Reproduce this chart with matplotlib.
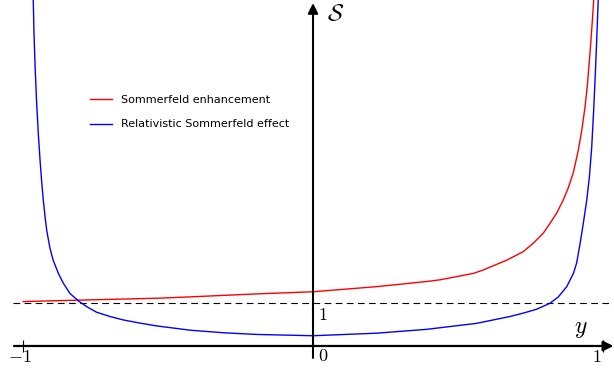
import matplotlib
matplotlib.use('Agg')
import matplotlib.pyplot as plt
import numpy as np

plt.rcParams['mathtext.fontset'] = 'cm'

# values (x = y variable, value = S)
red_x = [-0.999, -0.769, -0.528, -0.424, -0.194, 0.0, 0.220, 0.392, 0.438, 0.553,
         0.587, 0.668, 0.725, 0.760, 0.794, 0.817, 0.840, 0.863, 0.880, 0.898,
         0.915, 0.927, 0.938, 0.946, 0.955, 0.962, 0.969]
red_s = [1.04, 1.08, 1.12, 1.15, 1.22, 1.27, 1.39, 1.51, 1.55, 1.70,
         1.78, 2.01, 2.21, 2.41, 2.64, 2.87, 3.11, 3.42, 3.70, 4.07,
         4.59, 5.06, 5.60, 6.10, 6.85, 7.50, 8.20]

blue_x = [-0.965, -0.962, -0.958, -0.953, -0.947, -0.941, -0.936, -0.930, -0.924, -0.918,
          -0.907, -0.896, -0.878, -0.861, -0.838, -0.806, -0.780, -0.746, -0.700, -0.654,
          -0.600, -0.539, -0.424, -0.309, -0.194, 0.0, 0.220, 0.392, 0.564, 0.679,
          0.725, 0.771, 0.817, 0.846, 0.875, 0.898, 0.909, 0.921, 0.932, 0.944,
          0.953, 0.961, 0.968, 0.974, 0.979, 0.984]
blue_s = [8.20, 7.30, 6.50, 5.70, 4.95, 4.33, 3.88, 3.42, 3.03, 2.70,
          2.29, 2.01, 1.70, 1.47, 1.23, 1.04, 0.92, 0.79, 0.69, 0.61,
          0.54, 0.47, 0.37, 0.31, 0.27, 0.24, 0.30, 0.39, 0.53, 0.69,
          0.77, 0.86, 1.00, 1.15, 1.39, 1.70, 1.94, 2.40, 2.87, 3.42,
          3.96, 4.65, 5.55, 6.45, 7.30, 8.20]

x_ticks = [-1, 1]
x_labels = ['$-1$', '$0$', '$1$']

fig = plt.figure(figsize=(6.14, 3.69), dpi=100)
ax = fig.add_axes([0, 0, 1, 1])
ax.set_xlim(-1.0793, 1.0379)
ax.set_ylim(-0.539, 8.103)

for s in ['top', 'right', 'left', 'bottom']:
    ax.spines[s].set_visible(False)
ax.spines['bottom'].set_position(('data', 0))
ax.set_xticks(x_ticks)
ax.set_xticklabels(['', ''])
ax.tick_params(axis='x', direction='inout', length=9, width=0.8)
ax.set_yticks([])

# axes with arrows
ax.annotate('', xy=(1.036, 0), xytext=(-1.031, 0),
            arrowprops=dict(arrowstyle='-|>', lw=1.6, color='k', mutation_scale=15,
                            shrinkA=0, shrinkB=0))
ax.annotate('', xy=(0, 8.03), xytext=(0, -0.28),
            arrowprops=dict(arrowstyle='-|>', lw=1.5, color='k', mutation_scale=15,
                            shrinkA=0, shrinkB=0))

ax.axhline(1, xmin=0.021, xmax=0.997, color='k', lw=0.8, dashes=(6, 4))

ax.plot(red_x, red_s, color='red', lw=1.0, label='Sommerfeld enhancement')
ax.plot(blue_x, blue_s, color='blue', lw=1.0, label='Relativistic Sommerfeld effect')

ax.text(-1.010, -0.258, x_labels[0], fontsize=13, ha='center', va='center')
ax.text(0.034, -0.234, x_labels[1], fontsize=13, ha='center', va='center')
ax.text(0.979, -0.258, x_labels[2], fontsize=13, ha='center', va='center')
ax.text(0.034, 0.726, '$1$', fontsize=13, ha='center', va='center')
ax.text(0.924, 0.42, '$y$', fontsize=17, ha='center', va='center')
ax.text(0.079, 7.80, r'$\mathcal{S}$', fontsize=17, ha='center', va='center')

ax.legend(loc='upper left', bbox_to_anchor=(90/614, 1-95/369), frameon=False,
          fontsize=8.0, borderpad=0, borderaxespad=0, handlelength=2.0,
          handletextpad=0.75, labelspacing=1.3)

fig.savefig('out.png', dpi=100)
